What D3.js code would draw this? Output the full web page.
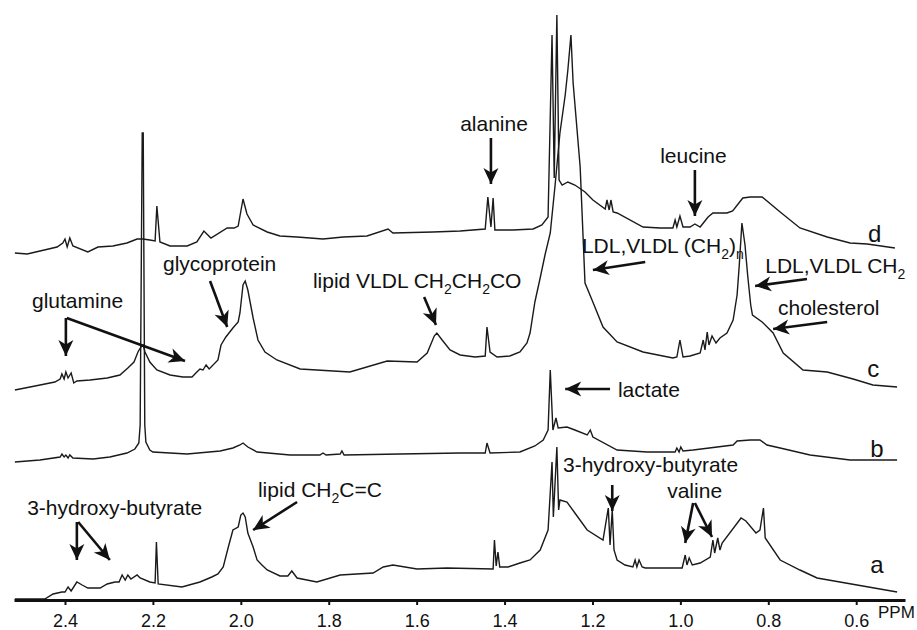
<!DOCTYPE html>
<html>
<head>
<meta charset="utf-8">
<script src="https://cdn.jsdelivr.net/npm/d3@7"></script>
<style>
  body { margin: 0; background: #fff; }
  svg { display: block; font-family: "Liberation Sans", Arial, Helvetica, sans-serif; }
</style>
</head>
<body>
<script>
// 1H NMR traces: [chemical shift (ppm), intensity above the trace's own baseline (a.u.)]
var traceA = [[2.514,1],[2.446,1],[2.427,6],[2.407,8],[2.400,8],[2.393,13],[2.386,9],[2.373,18],[2.361,15],[2.348,12],
  [2.320,12],[2.304,16],[2.286,18],[2.277,18],[2.270,25],[2.263,20],[2.257,25],[2.250,21],[2.236,25],[2.229,22],
  [2.207,18],[2.195,17],[2.192,58],[2.188,16],[2.134,13],[2.093,18],[2.066,23],[2.052,26],[2.040,33],[2.029,52],
  [2.018,70],[2.006,73],[2.000,85],[1.995,87],[1.990,83],[1.984,67],[1.972,53],[1.963,40],[1.952,35],[1.940,30],
  [1.911,24],[1.893,24],[1.884,29],[1.872,22],[1.827,18],[1.774,25],[1.699,27],[1.676,33],[1.654,35],[1.599,31],
  [1.531,32],[1.426,31],[1.423,60],[1.419,34],[1.415,48],[1.411,33],[1.392,33],[1.365,37],[1.342,40],[1.319,50],
  [1.301,70],[1.292,138],[1.289,83],[1.281,153],[1.277,90],[1.274,100],[1.258,98],[1.240,87],[1.212,70],[1.176,60],
  [1.164,92],[1.160,55],[1.155,90],[1.151,50],[1.144,40],[1.126,35],[1.108,33],[1.103,40],[1.099,33],[1.094,40],
  [1.087,33],[1.080,32],[0.996,32],[0.989,45],[0.985,35],[0.980,42],[0.973,35],[0.955,37],[0.932,43],[0.926,60],
  [0.922,47],[0.915,62],[0.910,50],[0.905,57],[0.862,82],[0.851,79],[0.828,67],[0.819,70],[0.811,92],[0.807,62],
  [0.773,40],[0.728,30],[0.689,22],[0.507,8]];

var traceB = [[2.514,-2],[2.457,0],[2.411,3],[2.407,6],[2.402,3],[2.398,5],[2.393,2],[2.389,5],[2.382,2],[2.336,1],
  [2.298,3],[2.259,7],[2.241,11],[2.232,17],[2.229,35],[2.2243,327],[2.2220,327],[2.2185,35],[2.216,18],[2.207,10],
  [2.200,8],[2.122,6],[2.047,9],[2.018,12],[2.002,15],[1.995,17],[1.984,13],[1.963,8],[1.888,5],[1.820,5],
  [1.813,7],[1.806,5],[1.774,6],[1.770,9],[1.765,5],[1.638,6],[1.501,7],[1.444,7],[1.440,17],[1.433,7],
  [1.365,8],[1.331,14],[1.312,20],[1.301,30],[1.296,90],[1.290,30],[1.283,42],[1.278,32],[1.258,33],[1.240,30],
  [1.212,25],[1.205,30],[1.199,23],[1.144,10],[1.076,8],[1.012,8],[1.008,12],[1.003,8],[0.999,13],[0.994,9],
  [0.971,10],[0.880,15],[0.871,19],[0.841,20],[0.819,20],[0.803,15],[0.773,12],[0.705,5],[0.614,0],[0.507,0]];

var traceC = [[2.514,0],[2.468,4],[2.423,8],[2.411,11],[2.407,16],[2.402,11],[2.398,18],[2.393,12],[2.386,17],[2.380,7],
  [2.373,9],[2.343,10],[2.304,12],[2.275,15],[2.257,22],[2.243,28],[2.234,38],[2.227,43],[2.222,45],[2.218,38],
  [2.207,28],[2.191,20],[2.161,15],[2.132,13],[2.111,13],[2.100,18],[2.093,21],[2.086,20],[2.079,25],[2.072,21],
  [2.052,30],[2.045,45],[2.034,53],[2.018,62],[2.006,68],[2.002,77],[1.995,105],[1.990,109],[1.984,100],[1.972,72],
  [1.961,50],[1.945,38],[1.918,30],[1.865,21],[1.752,18],[1.667,29],[1.599,28],[1.576,37],[1.560,54],[1.554,57],
  [1.542,50],[1.524,40],[1.501,35],[1.467,33],[1.444,34],[1.440,63],[1.433,38],[1.417,33],[1.388,34],[1.365,38],
  [1.349,47],[1.342,57],[1.331,88],[1.319,112],[1.308,135],[1.296,157],[1.285,205],[1.274,257],[1.262,295],[1.256,320],
  [1.249,355],[1.244,307],[1.228,223],[1.217,107],[1.201,90],[1.176,63],[1.144,48],[1.085,38],[1.017,32],[1.008,33],
  [1.001,50],[0.994,33],[0.978,34],[0.955,37],[0.948,50],[0.944,40],[0.939,58],[0.935,45],[0.928,54],[0.919,47],
  [0.910,52],[0.894,57],[0.880,70],[0.871,95],[0.866,125],[0.860,167],[0.853,145],[0.847,115],[0.840,85],[0.836,75],
  [0.814,68],[0.789,57],[0.766,37],[0.721,20],[0.666,18],[0.607,11],[0.562,5],[0.507,3]];

var traceD = [[2.514,-3],[2.486,-4],[2.418,3],[2.405,7],[2.400,11],[2.395,3],[2.389,12],[2.382,4],[2.348,-2],[2.325,3],
  [2.291,4],[2.259,7],[2.236,11],[2.223,11],[2.207,10],[2.195,9],[2.191,44],[2.184,8],[2.161,4],[2.122,4],
  [2.100,8],[2.084,19],[2.068,12],[2.031,22],[2.015,22],[2.006,24],[1.995,51],[1.986,36],[1.972,25],[1.940,18],
  [1.911,14],[1.872,13],[1.813,11],[1.767,13],[1.713,14],[1.665,21],[1.654,17],[1.563,18],[1.501,19],[1.444,21],
  [1.438,53],[1.431,23],[1.426,52],[1.422,20],[1.381,20],[1.335,21],[1.315,25],[1.301,33],[1.292,215],[1.287,72],
  [1.281,235],[1.276,70],[1.269,65],[1.256,68],[1.240,65],[1.217,58],[1.199,50],[1.171,41],[1.167,50],[1.162,40],
  [1.158,50],[1.153,38],[1.144,37],[1.085,23],[1.046,22],[1.017,22],[1.012,30],[1.008,23],[1.001,34],[0.994,23],
  [0.978,23],[0.967,26],[0.955,23],[0.937,33],[0.926,37],[0.894,37],[0.881,39],[0.858,52],[0.841,53],[0.814,53],
  [0.773,38],[0.728,22],[0.666,13],[0.614,7],[0.575,6],[0.512,2]];

var traceNames = ["a", "b", "c", "d"];
var traceData = [traceA, traceB, traceC, traceD];
var traceOffset = [0, 140, 210, 350];   // vertical stacking of the traces (a.u.)

var tickValues = [2.4, 2.2, 2.0, 1.8, 1.6, 1.4, 1.2, 1.0, 0.8, 0.6];

// annotations: text pieces [string, isSubscript], text start (ppm, a.u.), arrows [from, to]
var notes = [
  {parts: [["alanine",0]], at: [1.501, 469], arrows: [[[1.431, 462], [1.431, 416]]]},
  {parts: [["leucine",0]], at: [1.046, 437], arrows: [[[0.967, 430], [0.967, 384]]]},
  {parts: [["glycoprotein",0]], at: [2.177, 329], arrows: [[[2.070, 319], [2.031, 273]]]},
  {parts: [["lipid VLDL CH",0],["2",1],["CH",0],["2",1],["CO",0]], at: [1.836, 312], arrows: [[[1.583, 303], [1.556, 275]]]},
  {parts: [["glutamine",0]], at: [2.475, 292], arrows: [[[2.398, 282], [2.398, 244]], [[2.396, 282], [2.127, 239]]]},
  {parts: [["LDL,VLDL (CH",0],["2",1],[")",0],["n",1]], at: [1.224, 347], arrows: [[[1.080, 338], [1.199, 330]]]},
  {parts: [["LDL,VLDL CH",0],["2",1]], at: [0.807, 327], arrows: [[[0.712, 321], [0.830, 314]]]},
  {parts: [["cholesterol",0]], at: [0.778, 285], arrows: [[[0.666, 278], [0.789, 271]]]},
  {parts: [["lactate",0]], at: [1.142, 203], arrows: [[[1.160, 211], [1.262, 211]]]},
  {parts: [["3-hydroxy-butyrate",0]], at: [2.486, 85], arrows: [[[2.373, 78], [2.373, 40]], [[2.370, 78], [2.298, 40]]]},
  {parts: [["lipid CH",0],["2",1],["C=C",0]], at: [1.961, 103], arrows: [[[1.872, 98], [1.972, 70]]]},
  {parts: [["3-hydroxy-butyrate",0]], at: [1.267, 128], arrows: [[[1.155, 115], [1.155, 89]]]},
  {parts: [["valine",0]], at: [1.030, 102], arrows: [[[0.971, 97], [0.989, 57]], [[0.967, 97], [0.928, 63]]]}
];

var traceLabelAt = [[0.568, 27], [0.568, 143], [0.575, 223], [0.573, 358]];

var W = 917, H = 630;

var svg = d3.select("body").append("svg")
  .attr("width", W)
  .attr("height", H);

var x = d3.scaleLinear().domain([2.516, 0.489]).range([14, 905]);
var y = d3.scaleLinear().domain([0, 600]).range([600, 0]);

// arrow head
svg.append("defs").append("marker")
  .attr("id", "head")
  .attr("viewBox", "-1 -9 19 18")
  .attr("refX", 16).attr("refY", 0)
  .attr("markerUnits", "userSpaceOnUse")
  .attr("markerWidth", 19).attr("markerHeight", 18)
  .attr("orient", "auto")
  .append("path")
  .attr("d", "M0,-7.5L16,0L0,7.5L4.5,0Z")
  .attr("fill", "#111");

// spectra
var line = d3.line();
svg.selectAll("path.trace")
  .data(traceData)
  .enter()
  .append("path")
  .attr("class", "trace")
  .attr("d", function(d, i) {
    return line(d.map(function(p) { return [x(p[0]), y(p[1] + traceOffset[i])]; }));
  })
  .attr("fill", "none")
  .attr("stroke", "#1a1a1a")
  .attr("stroke-width", 1.4)
  .attr("stroke-linejoin", "miter");

// trace letters
svg.selectAll("text.tlabel")
  .data(traceNames)
  .enter()
  .append("text")
  .attr("class", "tlabel")
  .attr("x", function(d, i) { return x(traceLabelAt[i][0]); })
  .attr("y", function(d, i) { return y(traceLabelAt[i][1]); })
  .attr("font-size", "24px")
  .attr("fill", "#111")
  .text(function(d) { return d; });

// annotations
notes.forEach(function(n) {
  var t = svg.append("text")
    .attr("x", x(n.at[0]))
    .attr("y", y(n.at[1]))
    .attr("font-size", "21px")
    .attr("fill", "#111");
  n.parts.forEach(function(p, k) {
    var prevSub = k > 0 && n.parts[k - 1][1];
    var ts = t.append("tspan").text(p[0]);
    if (p[1]) {
      ts.attr("font-size", "14px").attr("dy", 6);
    } else if (prevSub) {
      ts.attr("dy", -6);
    }
  });
  n.arrows.forEach(function(a) {
    svg.append("line")
      .attr("x1", x(a[0][0])).attr("y1", y(a[0][1]))
      .attr("x2", x(a[1][0])).attr("y2", y(a[1][1]))
      .attr("stroke", "#111")
      .attr("stroke-width", 2.6)
      .attr("marker-end", "url(#head)");
  });
});

// x axis
var axis = svg.append("g")
  .attr("transform", "translate(0,600)")
  .call(d3.axisBottom(x)
    .tickValues(tickValues)
    .tickFormat(d3.format(".1f"))
    .tickSizeInner(5)
    .tickSizeOuter(0)
    .tickPadding(9));

axis.select(".domain").attr("stroke", "#111").attr("stroke-width", 3);
axis.selectAll(".tick line").attr("stroke", "#111").attr("stroke-width", 2);
axis.selectAll(".tick text")
  .attr("font-family", "'Liberation Sans', Arial, sans-serif")
  .attr("font-size", "18px")
  .attr("fill", "#111");

svg.append("text")
  .attr("x", 878)
  .attr("y", 618)
  .attr("font-size", "17px")
  .attr("fill", "#111")
  .text("PPM");
</script>
</body>
</html>
